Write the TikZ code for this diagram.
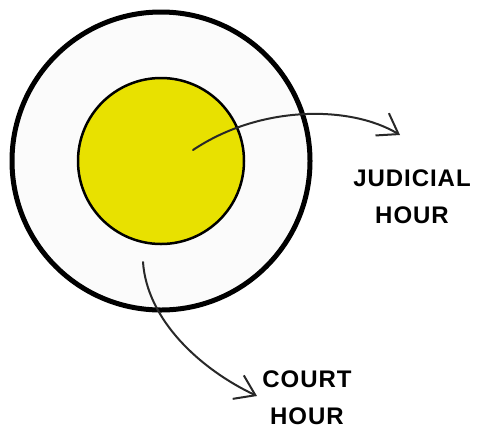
\documentclass[tikz,border=0pt]{standalone}
\usepackage{fontspec}
\newfontfamily\labelfont{Liberation Sans}[LetterSpace=4]
\usepackage{tikz}
\usetikzlibrary{arrows.meta}
\definecolor{yolk}{RGB}{232, 225, 0}
\definecolor{white}{RGB}{251, 251, 251}
\definecolor{ink}{RGB}{40, 40, 40}

\tikzset{
  ring/.style={circle, draw=black, inner sep=0pt},
  pointer/.style={ink, line width=2pt, line cap=round, -{Straight Barb[length=19pt, width=26pt, line width=2pt]}},
  caption/.style={font=\labelfont\bfseries\fontsize{24}{37}\selectfont, align=center, text=black, inner sep=0pt, anchor=base}
}

\begin{document}
\begin{tikzpicture}[x=1pt, y=-1pt]
  \useasboundingbox (0,0) rectangle (478,429);

  % the two rings
  \node[ring, line width=5pt, fill=white, minimum size=298pt] (outer) at (161,161) {};
  \node[ring, line width=2.5pt, fill=yolk, minimum size=166pt] (inner) at (161,161) {};

  % labels (anchored on the baseline of the last line)
  \node[caption] (judicial) at (412,223) {JUDICIAL\\HOUR};
  \node[caption] (court) at (307,424) {COURT\\HOUR};

  % ends of the arrows
  \coordinate (jstart) at (193,150);
  \coordinate (jend) at (400,135);
  \coordinate (cstart) at (143,262);
  \coordinate (cend) at (257,396);

  \draw[pointer] (jstart) .. controls (260,105) and (350,105) .. (jend);
  \draw[pointer] (cstart) .. controls (147,320) and (200,369) .. (cend);
\end{tikzpicture}
\end{document}
